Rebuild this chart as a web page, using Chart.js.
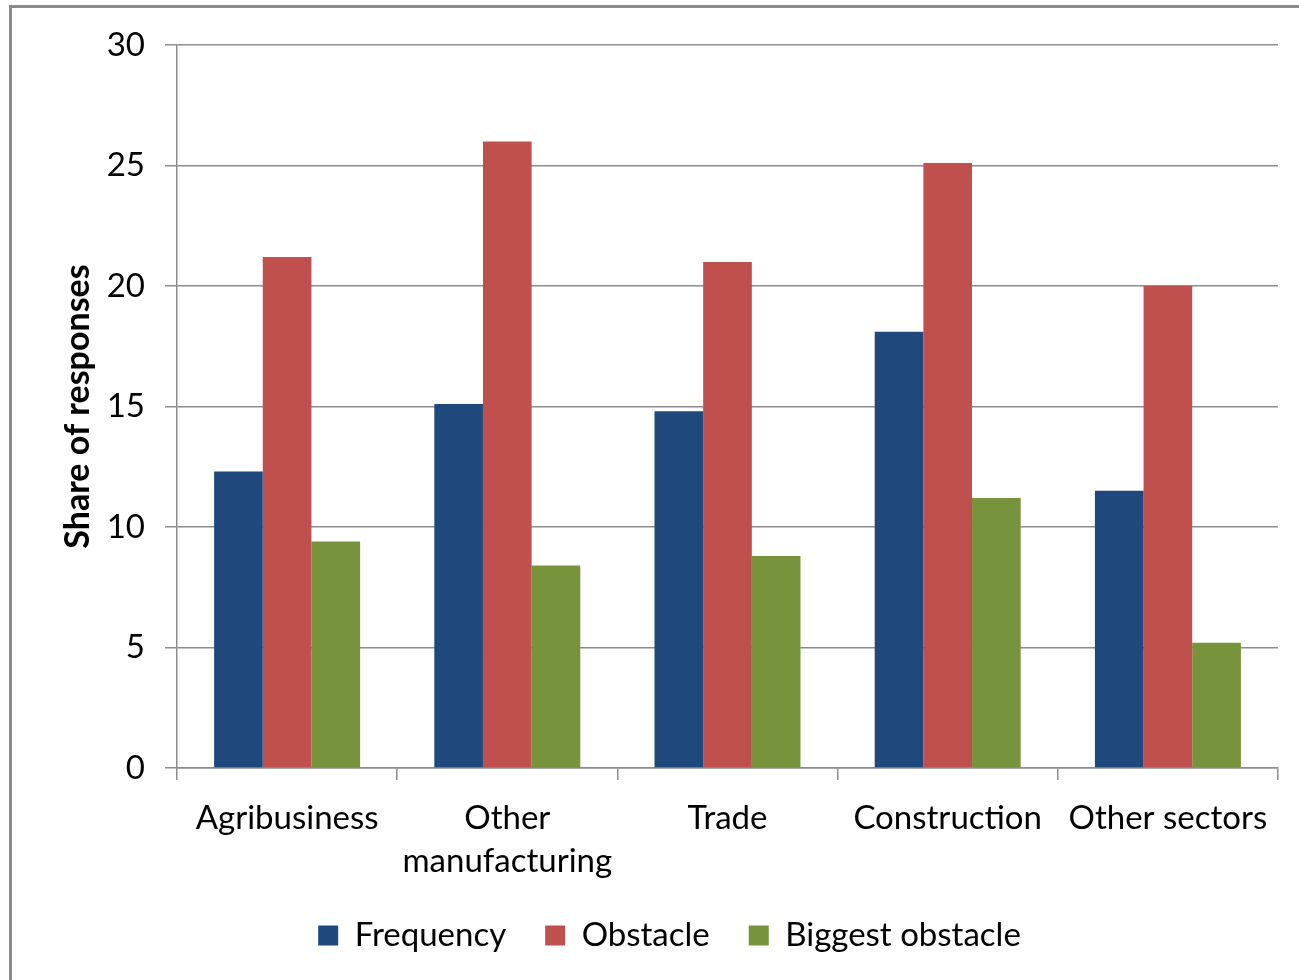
<!DOCTYPE html>
<html>
<head>
<meta charset="utf-8">
<title>Share of responses by sector</title>
<script src="https://cdn.jsdelivr.net/npm/chart.js@4.4.0/dist/chart.umd.min.js"></script>
<style>
  html, body { margin: 0; padding: 0; background: #ffffff; overflow: hidden; }
  #wrap { position: absolute; left: 0; top: 0; width: 1299px; height: 980px; }
  #frame { position: absolute; left: 9px; top: 5px; width: 1400px; height: 1100px;
           border: 3px solid #8a8a8a; box-sizing: border-box; pointer-events: none; }
  canvas { position: absolute; left: 0; top: 0; }
</style>
</head>
<body>
<div id="wrap">
  <canvas id="chart" width="1299" height="980"></canvas>
  <div id="frame"></div>
</div>
<script>
// Sectors along the x axis
const categories = ['Agribusiness', ['Other', 'manufacturing'], 'Trade', 'Construction', 'Other sectors'];

// Share of responses (%) per series
const frequency       = [12.3, 15.1, 14.8, 18.1, 11.5];
const obstacle        = [21.2, 26.0, 21.0, 25.1, 20.0];
const biggestObstacle = [9.4, 8.4, 8.8, 11.2, 5.2];

const seriesNames  = ['Frequency', 'Obstacle', 'Biggest obstacle'];
const seriesColors = ['#1f497d', '#c0504d', '#77933c'];

// Y axis ticks
const yTicks = [0, 5, 10, 15, 20, 25, 30];

const FONT = 'Lato, "Open Sans", sans-serif';
const gridColor = '#8c8c8c';

const datasets = [frequency, obstacle, biggestObstacle].map((values, i) => ({
  label: seriesNames[i],
  data: values,
  backgroundColor: seriesColors[i],
  borderWidth: 0,
  barPercentage: 1.0,
  categoryPercentage: 0.663
}));

new Chart(document.getElementById('chart'), {
  type: 'bar',
  data: { labels: categories, datasets },
  options: {
    responsive: false,
    animation: false,
    layout: { padding: { top: 45, right: 21, left: 61, bottom: 18 } },
    plugins: {
      tooltip: { enabled: false },
      legend: {
        position: 'bottom',
        labels: {
          font: { family: FONT, size: 33 },
          color: '#000000',
          boxWidth: 20,
          boxHeight: 20,
          padding: 39
        }
      }
    },
    scales: {
      x: {
        grid: {
          offset: true,
          drawOnChartArea: false,
          drawTicks: true,
          tickLength: 12,
          color: gridColor,
          lineWidth: 1.5
        },
        border: { color: gridColor, width: 1.5 },
        ticks: {
          color: '#000000',
          font: { family: FONT, size: 33, lineHeight: 1.3 },
          padding: 17,
          maxRotation: 0,
          autoSkip: false
        },
        afterFit: (scale) => { scale.height = 112; }
      },
      y: {
        min: 0,
        max: 30,
        afterBuildTicks: (scale) => { scale.ticks = yTicks.map(v => ({ value: v })); },
        grid: {
          color: gridColor,
          lineWidth: 1.5,
          drawTicks: true,
          tickLength: 12
        },
        border: { color: gridColor, width: 1.5 },
        ticks: {
          color: '#000000',
          font: { family: FONT, size: 33 },
          padding: 20
        },
        title: {
          display: true,
          text: 'Share of responses',
          color: '#000000',
          font: { family: FONT, size: 34, weight: 'bold', lineHeight: 1.0 },
          padding: { top: 0, bottom: 0 }
        },
        afterFit: (scale) => { scale.width = 116; }
      }
    }
  }
});
</script>
</body>
</html>
